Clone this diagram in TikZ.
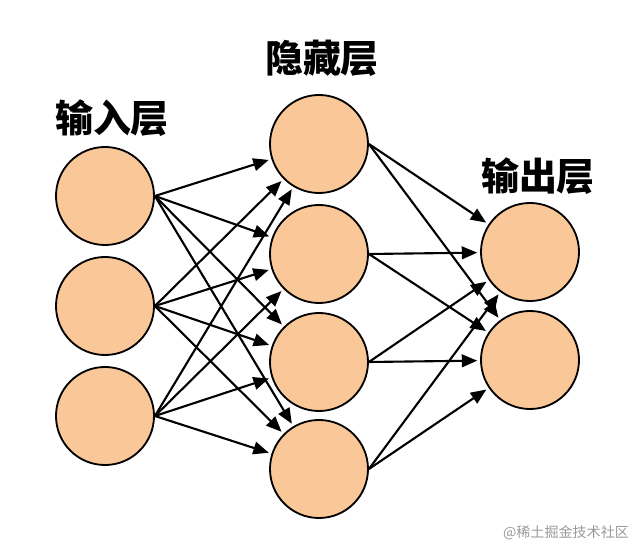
\documentclass[tikz,border=0pt]{standalone}
\usepackage{fontspec}
\newfontfamily\cjk{Noto Sans CJK SC}
\usetikzlibrary{arrows.meta}
\definecolor{cellfill}{RGB}{250,200,152}
\tikzset{
  cell/.style = {circle, draw, line width=1.3pt, fill=cellfill, minimum size=2.45cm, inner sep=0pt},
  layername/.style = {font=\cjk\bfseries\fontsize{27}{32}\selectfont},
  link/.style = {line width=1.5pt, -{Triangle[length=11pt,width=9pt]}, shorten >=2pt}
}
\begin{document}
\begin{tikzpicture} [x=0.025cm, y=-0.025cm]
	\useasboundingbox (0,0) rectangle (640,556);
	\node [cell] (in1) at (105,196) {};
	\node [cell] (in2) at (105,306) {};
	\node [cell] (in3) at (105,416) {};
	\node [cell] (hid1) at (319,144) {};
	\node [cell] (hid2) at (319,254) {};
	\node [cell] (hid3) at (319,362) {};
	\node [cell] (hid4) at (319,469) {};
	\node [cell] (out1) at (530,252) {};
	\node [cell] (out2) at (530,360) {};
	\node [layername] (inlabel) at (112,118) {输入层};
	\node [layername] (hidlabel) at (322,58) {隐藏层};
	\node [layername] (outlabel) at (538,176) {输出层};
	\node [font=\cjk\fontsize{10}{12}\selectfont, text=black!40] (mark) at (566,533) {@稀土掘金技术社区};
	\foreach \i in {1,2,3}
		\foreach \j in {1,2,3,4}
			\draw [link] (in\i.east) -- (hid\j);
	\foreach \i in {1,2,3,4}
		\foreach \j in {1,2}
			\draw [link] (hid\i.east) -- (out\j);
\end{tikzpicture}
\end{document}
